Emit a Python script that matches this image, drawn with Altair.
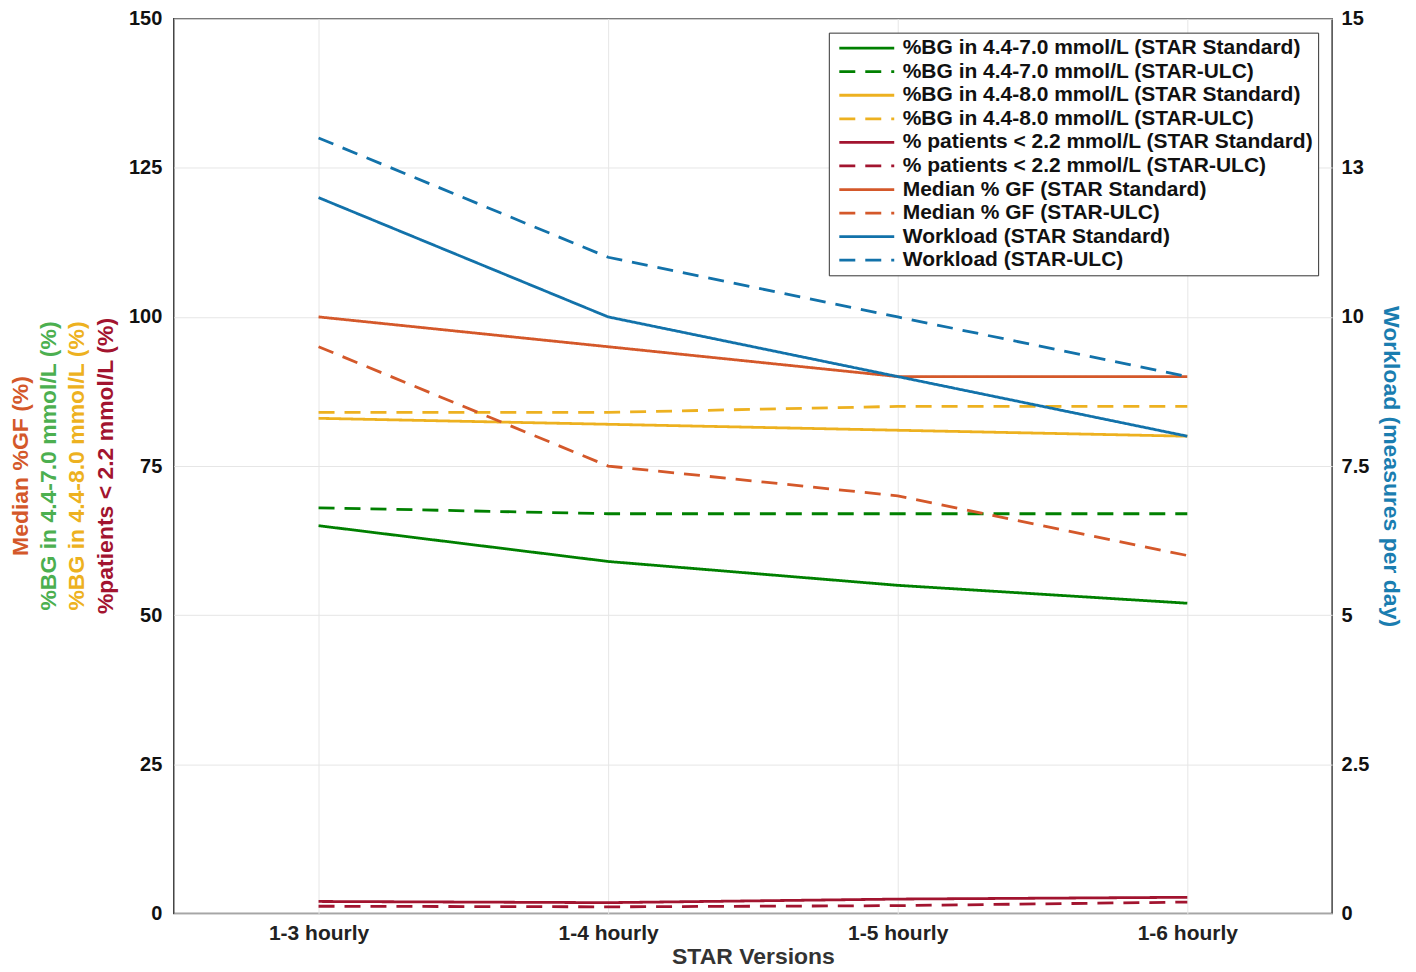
import altair as alt
import pandas as pd

versions = ["1-3 hourly", "1-4 hourly", "1-5 hourly", "1-6 hourly"]

bg70_std = [65, 59, 55, 52]
bg70_ulc = [68, 67, 67, 67]
bg80_std = [83, 82, 81, 80]
bg80_ulc = [84, 84, 85, 85]
hypo_std = [2.0, 1.8, 2.4, 2.7]
hypo_ulc = [1.2, 1.1, 1.3, 1.9]
gf_std = [100, 95, 90, 90]
gf_ulc = [95, 75, 70, 60]
work_std = [12, 10, 9, 8]
work_ulc = [13, 11, 10, 9]

series_names = [
    "%BG in 4.4-7.0 mmol/L (STAR Standard)",
    "%BG in 4.4-7.0 mmol/L (STAR-ULC)",
    "%BG in 4.4-8.0 mmol/L (STAR Standard)",
    "%BG in 4.4-8.0 mmol/L (STAR-ULC)",
    "% patients < 2.2 mmol/L (STAR Standard)",
    "% patients < 2.2 mmol/L (STAR-ULC)",
    "Median % GF (STAR Standard)",
    "Median % GF (STAR-ULC)",
    "Workload (STAR Standard)",
    "Workload (STAR-ULC)",
]
series_colors = ["#008000", "#008000", "#EDB120", "#EDB120", "#A2142F", "#A2142F",
                 "#D4582A", "#D4582A", "#1272AA", "#1272AA"]
series_dashes = [[1, 0], [16, 10]] * 5

left_values = [bg70_std, bg70_ulc, bg80_std, bg80_ulc, hypo_std, hypo_ulc, gf_std, gf_ulc]
right_values = [work_std, work_ulc]

left_title_lines = ["Median %GF (%)", "%BG in 4.4-7.0 mmol/L (%)",
                    "%BG in 4.4-8.0 mmol/L (%)", "%patients < 2.2 mmol/L (%)"]
left_title_colors = ["#D4582A", "#4CAF50", "#EDB120", "#A2142F"]

rows_left = []
for name, vals in zip(series_names[:8], left_values):
    for v, val in zip(versions, vals):
        rows_left.append({"version": v, "series": name, "value": val})
rows_right = []
for name, vals in zip(series_names[8:], right_values):
    for v, val in zip(versions, vals):
        rows_right.append({"version": v, "series": name, "value": val})

df_left = pd.DataFrame(rows_left)
df_right = pd.DataFrame(rows_right)

FONT = "Liberation Sans"

x_enc = alt.X("version:N", sort=versions, title="STAR Versions",
              scale=alt.Scale(type="point", padding=0.5),
              axis=alt.Axis(labelAngle=0, labelFontSize=21, labelFontWeight="bold",
                            titleFontSize=23, titleFontWeight="bold", labelPadding=9,
                            titlePadding=2, ticks=False, domain=False, grid=True,
                            gridColor="#e6e6e6", labelColor="#222", titleColor="#333"))

color_enc = alt.Color("series:N", scale=alt.Scale(domain=series_names, range=series_colors),
                      legend=alt.Legend(title=None, orient="top-right", offset=14,
                                        symbolType="M-1,0H10", symbolSize=100,
                                        symbolStrokeWidth=2.8, labelFontSize=21,
                                        labelFontWeight="bold", labelColor="#111",
                                        labelLimit=600, rowPadding=1.6, padding=5,
                                        fillColor="white", strokeColor="#333",
                                        labelOffset=48))
dash_enc = alt.StrokeDash("series:N", scale=alt.Scale(domain=series_names, range=series_dashes),
                          legend=alt.Legend(title=None))

left_lines = alt.Chart(df_left).mark_line(strokeWidth=2.8).encode(
    x=x_enc,
    y=alt.Y("value:Q", title=None,
            scale=alt.Scale(domain=[0, 150], nice=False, zero=False),
            axis=alt.Axis(orient="left", values=[0, 25, 50, 75, 100, 125, 150],
                          labelFontSize=20, labelFontWeight="bold", labelColor="#111",
                          labelPadding=12, ticks=False, domain=False, grid=True,
                          gridColor="#e6e6e6")),
    color=color_enc,
    strokeDash=dash_enc,
)

title_layers = []
title_x = [-153, -125, -97, -68]
for line, col, xv in zip(left_title_lines, left_title_colors, title_x):
    title_layers.append(
        alt.Chart(pd.DataFrame({"t": [line]})).mark_text(
            angle=270, fontSize=23, fontWeight="bold", color=col, font=FONT,
            align="center", baseline="middle"
        ).encode(text="t:N", x=alt.value(xv), y=alt.value(448))
    )

left = alt.layer(left_lines, *title_layers)

right = alt.Chart(df_right).mark_line(strokeWidth=2.8).encode(
    x=x_enc,
    y=alt.Y("value:Q", title="Workload (measures per day)",
            scale=alt.Scale(domain=[0, 15], nice=False, zero=False),
            axis=alt.Axis(orient="right", values=[0, 2.5, 5, 7.5, 10, 12.5, 15],
                          format="~g",
                          labelFontSize=20, labelFontWeight="bold", labelColor="#111",
                          labelPadding=9, ticks=False, domain=False, grid=False,
                          titleColor="#1A7DB0", titleFontSize=23, titleFontWeight="bold",
                          titlePadding=10)),
    color=color_enc,
    strokeDash=dash_enc,
)

chart = alt.layer(left, right).resolve_scale(y="independent").properties(
    width=1160, height=896,
    autosize=alt.AutoSizeParams(type="none"),
    padding={"left": 166, "top": 10, "right": 76, "bottom": 56},
).configure(font=FONT).configure_view(stroke="#444", strokeWidth=1.5)

chart.save("out.html", embed_options={"renderer": "svg", "actions": False})
